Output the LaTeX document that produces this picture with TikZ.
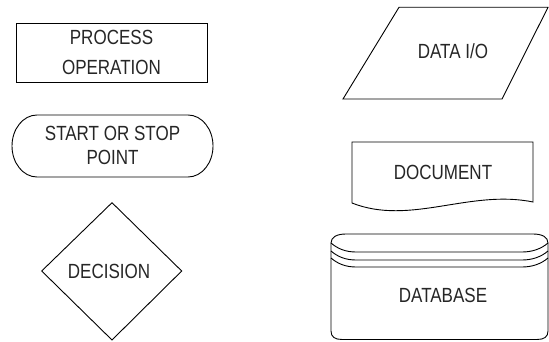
\documentclass[tikz,border=0pt]{standalone}
\usepackage{fontspec}
\setmainfont{Liberation Sans}[FakeStretch=0.83]
\begin{document}
\begin{tikzpicture}[x=1pt,y=1pt,
  outline/.style={draw=black,line width=0.9pt,line join=miter},
  label/.style={text=black!85,align=center,inner sep=0pt,font=\fontsize{20.5}{24}\selectfont}]
\useasboundingbox (0,0) rectangle (549,341);
% process
\draw[outline] (16,259) rectangle (207,317.7);
\node[label] (process) at (111.5,289) {PROCESS\\[6pt]OPERATION};
% start / stop
\draw[outline] (37,226) -- (188,226) arc[start angle=90,end angle=-90,x radius=25,y radius=31]
  -- (37,164) arc[start angle=270,end angle=90,x radius=25,y radius=31] -- cycle;
\node[label] (start) at (112.5,195.3) {START OR STOP\\POINT};
% decision
\draw[outline] (41.7,70) -- (112,138.3) -- (181.7,70) -- (112,1) -- cycle;
\node[label] (decision) at (109,70) {DECISION};
% data i/o
\draw[outline] (343,242) -- (502,242) -- (548,333.7) -- (399,333.7) -- cycle;
\node[label] (dataio) at (453,290) {DATA I/O};
% document
\draw[outline] (352,138) -- (352,199) -- (533,199) -- (533,139)
  .. controls (470,152) and (410,115) .. (352,138) -- cycle;
\node[label] (document) at (443,169) {DOCUMENT};
% database
\draw[outline] (331,10) -- (331,98) .. controls (331,104) and (337,107) .. (346,107)
  -- (533,107) .. controls (542,107) and (548,104) .. (548,98)
  -- (548,10) .. controls (548,4) and (544,1.5) .. (537,1.5)
  -- (342,1.5) .. controls (335,1.5) and (331,4) .. (331,10) -- cycle;
\foreach \d in {0,8,15}{
  \draw[outline] (331,98-\d) .. controls (338,92-\d) and (346,89-\d) .. (356,89-\d)
    -- (522,89-\d) .. controls (532,89-\d) and (541,92-\d) .. (548,98-\d);
}
\node[label] (database) at (443,45.5) {DATABASE};
\end{tikzpicture}
\end{document}
